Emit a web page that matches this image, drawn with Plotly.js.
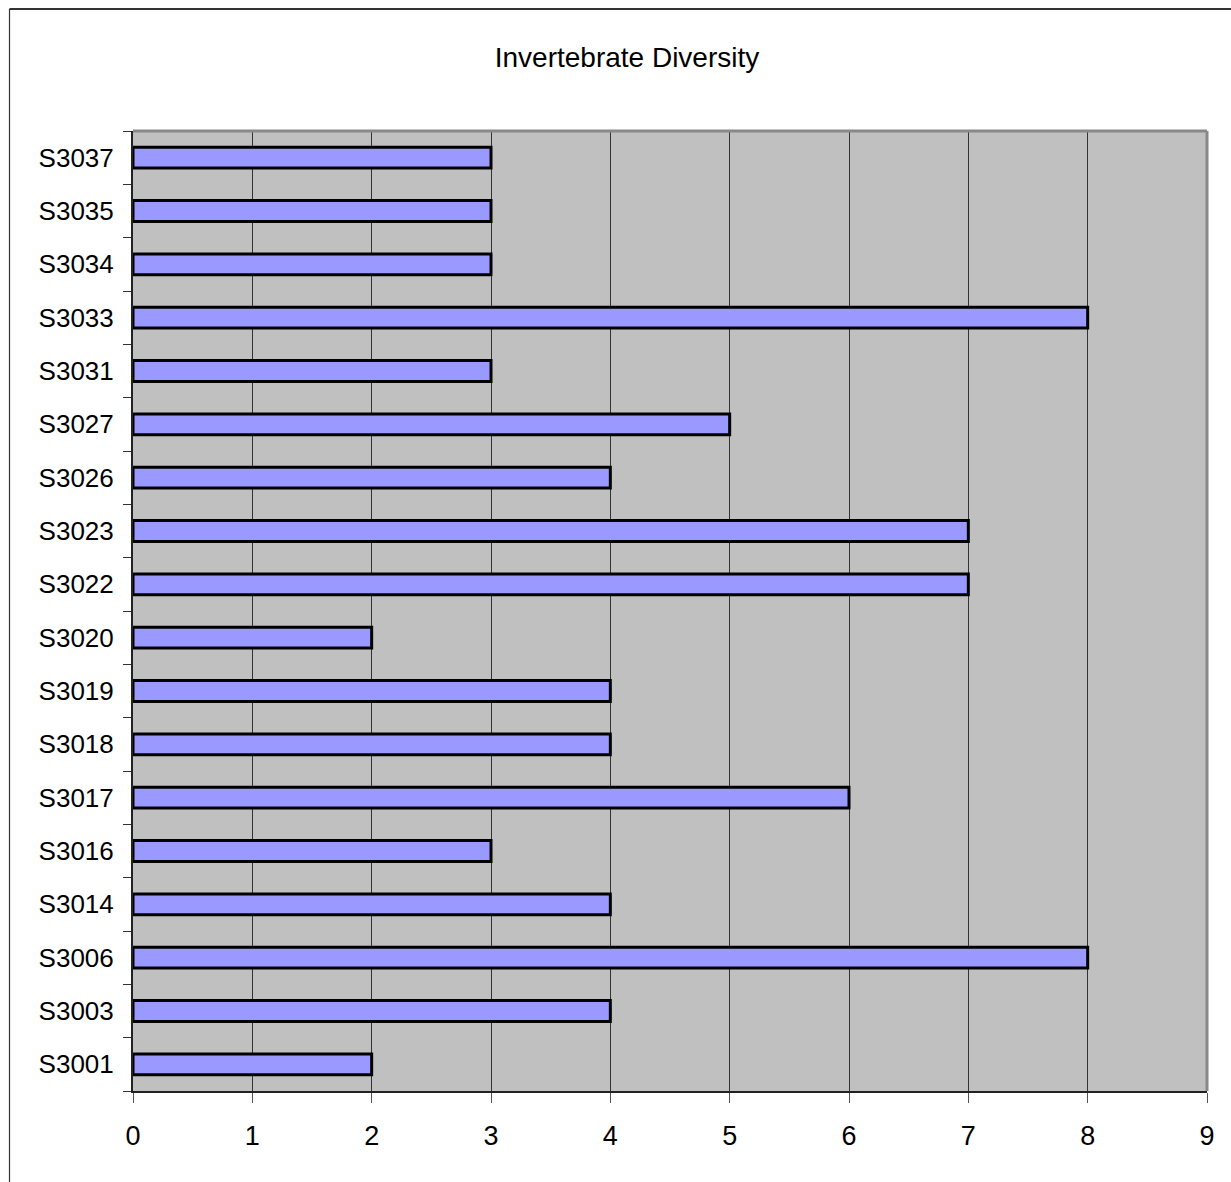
<!DOCTYPE html>
<html>
<head>
<meta charset="utf-8">
<script src="https://cdn.plot.ly/plotly-3.0.1.min.js"></script>
<style>
  html, body { margin: 0; padding: 0; background: #ffffff; }
  #chart { width: 1231px; height: 1182px; }
</style>
</head>
<body>
<div id="chart"></div>
<script>
// Sampling sites, listed bottom to top
const sites = ["S3001", "S3003", "S3006", "S3014", "S3016", "S3017", "S3018", "S3019", "S3020",
               "S3022", "S3023", "S3026", "S3027", "S3031", "S3033", "S3034", "S3035", "S3037"];
// Number of invertebrate taxa found at each site
const diversity = [2, 4, 8, 4, 3, 6, 4, 4, 2, 7, 7, 4, 5, 3, 8, 3, 3, 3];
// Value axis ticks
const xTicks = [0, 1, 2, 3, 4, 5, 6, 7, 8, 9];

const W = 1231, H = 1182;
const margin = { l: 133, r: 24, t: 131, b: 91 };
const plotW = W - margin.l - margin.r;
const plotH = H - margin.t - margin.b;

const trace = {
  type: "bar",
  orientation: "h",
  y: sites,
  x: diversity,
  width: 0.39,
  marker: { color: "#9999FF", line: { color: "#000000", width: 3 } },
  hoverinfo: "x+y"
};

const fontFam = "Liberation Sans, Arial, sans-serif";

const layout = {
  width: W,
  height: H,
  margin: margin,
  paper_bgcolor: "#ffffff",
  plot_bgcolor: "#C0C0C0",
  showlegend: false,
  font: { family: fontFam, color: "#000000", size: 26 },
  title: {
    text: "Invertebrate Diversity",
    font: { family: fontFam, size: 28, color: "#000000" },
    xref: "container", yref: "container",
    x: 627 / W, y: 1 - 57 / H,
    xanchor: "center", yanchor: "middle"
  },
  xaxis: {
    range: [0, 9],
    tickvals: xTicks,
    ticktext: xTicks.map(String),
    showgrid: true,
    gridcolor: "#333333",
    gridwidth: 1,
    zeroline: false,
    showline: true,
    linecolor: "#222222",
    linewidth: 2,
    ticks: "outside",
    ticklen: 10,
    tickwidth: 1,
    tickcolor: "#555555",
    ticklabelstandoff: 10,
    tickfont: { family: fontFam, size: 27, color: "#000000" },
    fixedrange: true
  },
  yaxis: {
    type: "category",
    categoryorder: "array",
    categoryarray: sites,
    range: [-0.5, sites.length - 0.5],
    tickson: "boundaries",
    showgrid: false,
    zeroline: false,
    showline: true,
    linecolor: "#222222",
    linewidth: 2,
    ticks: "outside",
    ticklen: 8,
    tickwidth: 1,
    tickcolor: "#333333",
    ticklabelstandoff: 12,
    tickfont: { family: fontFam, size: 26, color: "#000000" },
    fixedrange: true
  },
  shapes: [
    // gray frame on the top and right of the plot area
    { type: "line", xref: "paper", yref: "paper", x0: 0, x1: 1, y0: 1, y1: 1,
      line: { color: "#888888", width: 3 }, layer: "above" },
    { type: "line", xref: "paper", yref: "paper", x0: 1, x1: 1, y0: 0, y1: 1,
      line: { color: "#888888", width: 3 }, layer: "above" },
    // outer chart frame (top and left edges)
    { type: "line", xref: "paper", yref: "paper",
      x0: (9.5 - margin.l) / plotW, x1: (W + 20 - margin.l) / plotW,
      y0: 1 + (margin.t - 9) / plotH, y1: 1 + (margin.t - 9) / plotH,
      line: { color: "#333333", width: 2 }, layer: "above" },
    { type: "line", xref: "paper", yref: "paper",
      x0: (9.5 - margin.l) / plotW, x1: (9.5 - margin.l) / plotW,
      y0: 1 + (margin.t - 9) / plotH, y1: -(margin.b + 20) / plotH,
      line: { color: "#333333", width: 1.2 }, layer: "above" }
  ]
};

Plotly.newPlot("chart", [trace], layout, { displayModeBar: false, staticPlot: true });
</script>
</body>
</html>
